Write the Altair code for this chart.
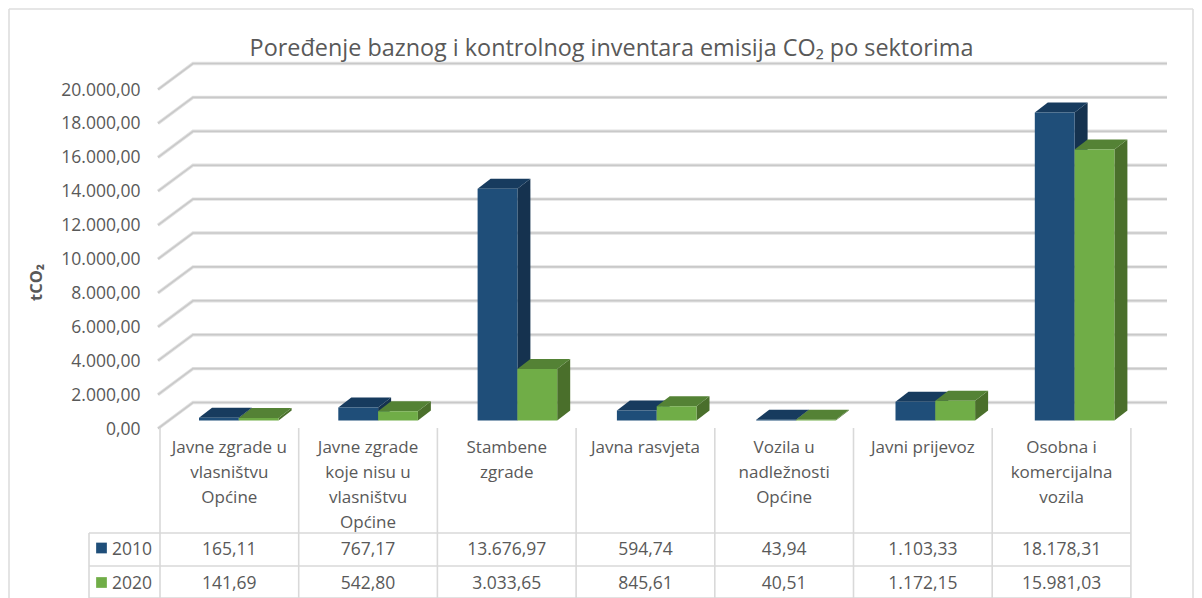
import altair as alt
import pandas as pd

CATEGORIES = [
    "Javne zgrade u\nvlasništvu\nOpćine",
    "Javne zgrade\nkoje nisu u\nvlasništvu\nOpćine",
    "Stambene\nzgrade",
    "Javna rasvjeta",
    "Vozila u\nnadležnosti\nOpćine",
    "Javni prijevoz",
    "Osobna i\nkomercijalna\nvozila",
]
SERIES = ["2010", "2020"]
V2010 = [165.11, 767.17, 13676.97, 594.74, 43.94, 1103.33, 18178.31]
V2020 = [141.69, 542.80, 3033.65, 845.61, 40.51, 1172.15, 15981.03]
TICKS = list(range(0, 20001, 2000))
TITLE = "Poređenje baznog i kontrolnog inventara emisija CO₂ po sektorima"
FRONT = ["#1f4e79", "#70ad47"]
TOP = ["#173b5e", "#548235"]
SIDE = ["#15324f", "#4a6f2b"]

W, H = 1186, 590
MX, MY = 8, 8
BASE = 420.5
K = 33.9 / 2000
xs = alt.Scale(domain=[MX, MX + W], range=[0, W], nice=False, zero=False)
ys = alt.Scale(domain=[(BASE - (MY + H)) / K, (BASE - MY) / K], range=[H, 0], nice=False, zero=False)


def py(p):
    return (BASE - p) / K


label_expr = "replace(replace(replace(format(datum.value, ',.2f'), '.', '#'), ',', '.'), '#', ',')"
Y_AXIS = alt.Axis(
    values=TICKS, labelExpr=label_expr, domain=False, ticks=False, grid=False,
    orient="left", offset=-132, labelPadding=0, labelOffset=8.5,
    labelFont="Open Sans", labelFontSize=17.5, labelColor="#595959",
    title="tCO₂", titleFont="Open Sans", titleFontSize=16.5, titleFontWeight="bold",
    titleColor="#595959", titleX=-96, titleY=274, titleAngle=270,
)
X = alt.X("x:Q", scale=xs, axis=None)
Y = alt.Y("y:Q", scale=ys, axis=Y_AXIS)
X2 = alt.X2("x2:Q")
Y2 = alt.Y2("y2:Q")

# ---- gridlines
FRONT_DROP = 8 / K
BACK_RISE = 18 / K
grid_rows = []
for t in TICKS:
    grid_rows += [
        dict(t=t, x=158, y=t - FRONT_DROP),
        dict(t=t, x=193, y=t + BACK_RISE),
        dict(t=t, x=1167, y=t + BACK_RISE),
    ]
grid_df = pd.DataFrame(grid_rows)
grid_under = alt.Chart(grid_df).mark_line(color="#e2e2e2", strokeWidth=3.4).encode(x=X, y=Y, detail="t:N")
grid_over = alt.Chart(grid_df).mark_line(color="#c9c9c9", strokeWidth=1.6).encode(x=X, y=Y, detail="t:N")

# ---- bars
BAR0, STEP, BW, DX = 199, 139.3, 39.8, 13
DY = 10 / K
side_rows, top_rows, front_rows = [], [], []
for s, vals in enumerate([V2010, V2020]):
    for i, v in enumerate(vals):
        x0 = BAR0 + STEP * i + BW * s
        key = f"{s}-{i}"
        front_rows.append(dict(k=key, s=SERIES[s], x=x0, x2=x0 + BW, y=v, y2=0))
        side_rows += [
            dict(k=key, s=SERIES[s], x=x0 + BW, y=v, y2=0),
            dict(k=key, s=SERIES[s], x=x0 + BW + DX, y=v + DY, y2=DY),
        ]
        top_rows += [
            dict(k=key, s=SERIES[s], x=x0, y=v, y2=v),
            dict(k=key, s=SERIES[s], x=x0 + DX, y=v + DY, y2=v),
            dict(k=key, s=SERIES[s], x=x0 + BW, y=v + DY, y2=v),
            dict(k=key, s=SERIES[s], x=x0 + BW + DX, y=v + DY, y2=v + DY),
        ]
side_df, top_df, front_df = map(pd.DataFrame, (side_rows, top_rows, front_rows))


def bars(s):
    side = alt.Chart(side_df[side_df.s == SERIES[s]]).mark_area(color=SIDE[s], orient="vertical").encode(
        x=X, y=Y, y2=Y2, detail="k:N")
    top = alt.Chart(top_df[top_df.s == SERIES[s]]).mark_area(color=TOP[s], orient="vertical").encode(
        x=X, y=Y, y2=Y2, detail="k:N")
    front = alt.Chart(front_df[front_df.s == SERIES[s]]).mark_rect(color=FRONT[s]).encode(
        x=X, x2=X2, y=Y, y2=Y2)
    return [side, top, front]


# ---- frame and table rules
LINE = "#d9d9d9"
T0, TSTEP = 160, 138.7
COLS = [T0 + TSTEP * i for i in range(len(CATEGORIES) + 1)]
ROW_Y = [533, 566, 598]
rules = [dict(x=c, x2=c, y=py(428), y2=py(598)) for c in COLS]
rules.append(dict(x=89, x2=89, y=py(533), y2=py(598)))
rules += [dict(x=89, x2=COLS[-1], y=py(r), y2=py(r)) for r in ROW_Y]
rule_df = pd.DataFrame(rules)
table_rules = alt.Chart(rule_df).mark_rule(color=LINE, strokeWidth=1.6).encode(x=X, x2=X2, y=Y, y2=Y2)
frame_df = pd.DataFrame([
    dict(x=9, x2=9, y=py(9), y2=py(598)),
    dict(x=9, x2=1193, y=py(9), y2=py(9)),
    dict(x=1193, x2=1193, y=py(9), y2=py(598)),
])
frame = alt.Chart(frame_df).mark_rule(color="#dedede", strokeWidth=1.6).encode(x=X, x2=X2, y=Y, y2=Y2)


# ---- table text
def fmt(v):
    return f"{v:,.2f}".replace(",", "#").replace(".", ",").replace("#", ".")


mids = [c + TSTEP / 2 for c in COLS[:-1]]
cat_df = pd.DataFrame(dict(x=mids, y=py(439.5), t=CATEGORIES))
cats = alt.Chart(cat_df).mark_text(
    font="Open Sans", fontSize=17, color="#595959", baseline="top", align="center",
    lineBreak="\n", lineHeight=25,
).encode(x=X, y=Y, text="t:N")

ROW_CY = [550, 583.5]
cell_rows = []
for r, vals in enumerate([V2010, V2020]):
    for m, v in zip(mids, vals):
        cell_rows.append(dict(x=m, y=py(ROW_CY[r]), t=fmt(v)))
cells = alt.Chart(pd.DataFrame(cell_rows)).mark_text(
    font="Open Sans", fontSize=17.5, color="#595959", align="center", baseline="middle",
).encode(x=X, y=Y, text="t:N")

key_df = pd.DataFrame(dict(x=[101.5, 101.5], y=[py(548), py(582.5)], s=SERIES, lx=[112, 112], ly=[py(550), py(583.5)]))
keys = alt.Chart(key_df).mark_point(shape="square", filled=True, size=115, opacity=1).encode(
    x=X, y=Y,
    color=alt.Color("s:N", scale=alt.Scale(domain=SERIES, range=FRONT), legend=None),
)
key_labels = alt.Chart(key_df).mark_text(
    font="Open Sans", fontSize=17.5, color="#595959", align="left", baseline="middle",
).encode(x=alt.X("lx:Q", scale=xs, axis=None), y=alt.Y("ly:Q", scale=ys, axis=Y_AXIS), text="s:N")

chart = alt.layer(
    frame, grid_under, grid_over, *bars(0), *bars(1), table_rules, cats, cells, keys, key_labels,
).properties(
    width=W, height=H, padding=0,
    autosize=alt.AutoSizeParams(type="none"),
    background="white",
    title=alt.TitleParams(
        TITLE, anchor="middle", frame="group", offset=0, dx=10.5, dy=53,
        font="Open Sans", fontSize=23.4, fontWeight="normal", color="#595959",
    ),
).configure_view(stroke=None)

chart.save("out.html", embed_options={"renderer": "svg", "actions": False})
